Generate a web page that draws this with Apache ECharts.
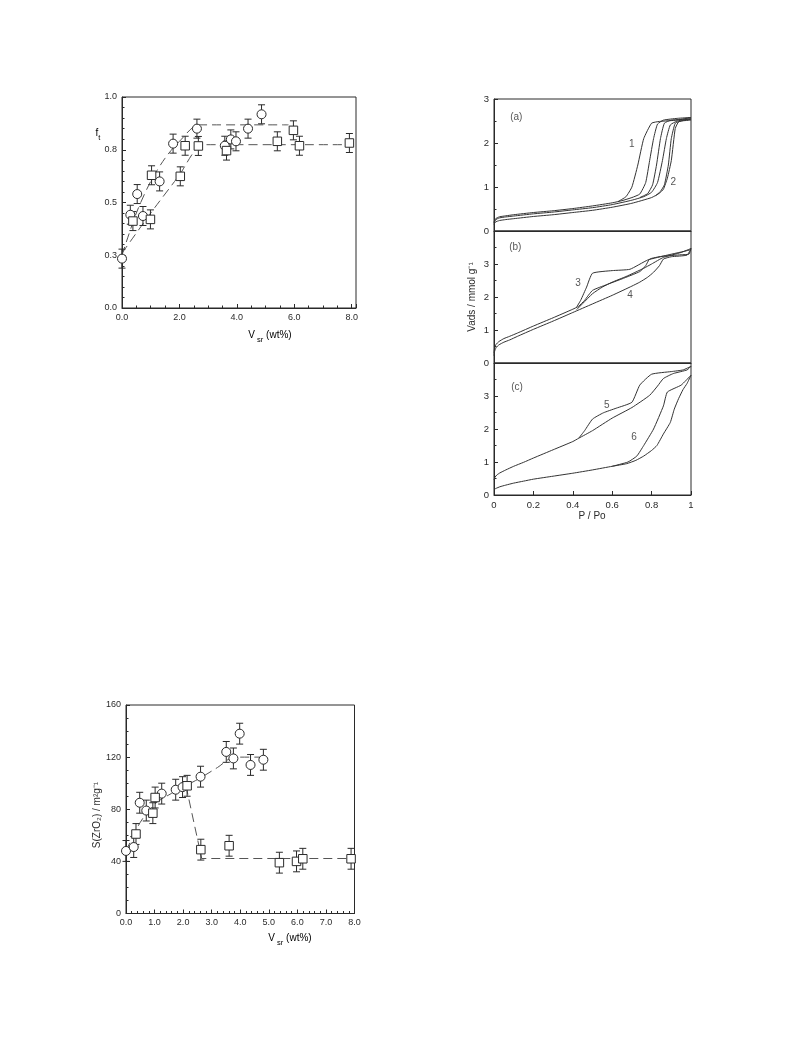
<!DOCTYPE html>
<html><head><meta charset="utf-8">
<script src="https://cdn.jsdelivr.net/npm/echarts/dist/echarts.min.js"></script>
<style>html,body{margin:0;padding:0;background:#fff}#c{width:793px;height:1057px}</style>
</head><body><div id="c"></div>
<script>
// ---------- Chart 1: f_t vs V_sr ----------
const ftCircX = [0.0, 0.29, 0.53, 0.73, 1.31, 1.78, 2.61, 3.58, 3.79, 3.97, 4.39, 4.86];
const ftCircY = [0.234, 0.442, 0.540, 0.436, 0.600, 0.779, 0.850, 0.769, 0.799, 0.790, 0.850, 0.918];
const ftSqX = [0.38, 0.99, 1.03, 2.03, 2.20, 2.66, 3.64, 5.41, 5.97, 6.18, 7.92];
const ftSqY = [0.412, 0.420, 0.629, 0.624, 0.769, 0.768, 0.746, 0.790, 0.842, 0.769, 0.782];
const ftErr = 0.045;
const ftFitCirc = [[0,0.25],[0.5,0.45],[1.0,0.60],[1.5,0.71],[2.0,0.79],[2.7,0.868],[5.8,0.868]];
const ftFitSq = [[0,0.26],[1.0,0.45],[2.0,0.63],[2.8,0.774],[8.0,0.774]];
const ftXTicks = [0, 2, 4, 6, 8];
const ftXLabels = ['0.0', '2.0', '4.0', '6.0', '8.0'];
const ftYTicks = [0, 0.25, 0.5, 0.75, 1.0];
const ftYLabels = ['0.0', '0.3', '0.5', '0.8', '1.0'];

// ---------- Chart 3: S(ZrO2) vs V_sr ----------
const sCircX = [0.0, 0.27, 0.48, 0.71, 1.25, 1.74, 1.98, 2.61, 3.51, 3.76, 3.98, 4.36, 4.81];
const sCircY = [48, 51, 85, 79, 92, 95, 97, 105, 124, 119, 138, 114, 118];
const sSqX = [0.35, 0.94, 1.02, 2.14, 2.62, 3.61, 5.37, 5.97, 6.19, 7.88];
const sSqY = [61, 77, 89, 98, 49, 52, 39, 40, 42, 42];
const sErr = 8;
const sFitCirc = [[0,48],[0.5,70],[1.0,84],[1.5,91],[2.0,97],[2.6,104],[3.2,112],[3.8,120],[4.9,120]];
const sFitSq = [[2.1,98],[2.65,42.2],[8.0,42.2]];
const sXTicks = [0,1,2,3,4,5,6,7,8];
const sXLabels = ['0.0','1.0','2.0','3.0','4.0','5.0','6.0','7.0','8.0'];
const sYTicks = [0,40,80,120,160];
const sYLabels = ['0','40','80','120','160'];

// ---------- Chart 2: isotherms (P/Po, Vads) ----------
// panel (a)
const aU1 = [[0,0.2],[0.005,0.26],[0.015,0.3],[0.03,0.325],[0.06,0.345],[0.1,0.37],[0.2,0.42],[0.3,0.46],[0.4,0.51],[0.5,0.57],[0.6,0.64],[0.65,0.69],[0.7,0.76]];
const a1AdsTop = [[0.74,0.84],[0.77,1.1],[0.79,1.6],[0.81,2.1],[0.83,2.43],[0.86,2.52],[0.93,2.56],[1.0,2.58]];
const a1Des = [[1.0,2.58],[0.93,2.52],[0.84,2.49],[0.8,2.45],[0.76,2.1],[0.73,1.5],[0.7,1.0],[0.67,0.78],[0.63,0.67]];
const aU2 = [[0,0.18],[0.005,0.235],[0.015,0.275],[0.03,0.3],[0.06,0.32],[0.1,0.34],[0.2,0.39],[0.3,0.43],[0.4,0.48],[0.5,0.53],[0.6,0.6],[0.7,0.7],[0.76,0.78]];
const a2AdsTop = [[0.8,0.88],[0.83,1.1],[0.855,1.6],[0.875,2.1],[0.895,2.41],[0.93,2.5],[1.0,2.55]];
const a2Des = [[1.0,2.55],[0.9,2.52],[0.865,2.45],[0.845,2.1],[0.825,1.5],[0.805,1.05],[0.78,0.85],[0.74,0.76]];
const aL = [[0,0.15],[0.005,0.195],[0.015,0.22],[0.03,0.24],[0.06,0.26],[0.1,0.28],[0.2,0.33],[0.3,0.37],[0.4,0.42],[0.5,0.47],[0.6,0.54],[0.7,0.63],[0.8,0.76],[0.84,0.86]];
const a3AdsTop = [[0.86,0.95],[0.88,1.2],[0.9,1.6],[0.92,2.33],[0.937,2.48],[0.97,2.52],[1.0,2.54]];
const a3Des = [[1.0,2.52],[0.95,2.5],[0.92,2.45],[0.9,2.1],[0.885,1.5],[0.865,1.05],[0.845,0.9],[0.82,0.8]];
// panel (b)
const bU = [[0,0.3],[0.003,0.45],[0.01,0.56],[0.025,0.65],[0.05,0.74],[0.08,0.81],[0.12,0.91],[0.2,1.12],[0.3,1.37],[0.4,1.63],[0.43,1.72]];
const b3AdsTop = [[0.46,1.9],[0.5,2.2],[0.57,2.37],[0.65,2.55],[0.74,2.77],[0.77,2.95],[0.79,3.15],[0.85,3.23],[0.95,3.28],[0.99,3.3],[1.0,3.47]];
const b3Des = [[1.0,3.47],[0.99,3.42],[0.88,3.27],[0.78,3.12],[0.69,2.84],[0.6,2.8],[0.5,2.72],[0.47,2.3],[0.44,1.9],[0.42,1.7]];
const bL = [[0,0.22],[0.003,0.35],[0.01,0.46],[0.025,0.55],[0.05,0.63],[0.08,0.7],[0.12,0.81],[0.2,1.02],[0.3,1.27],[0.4,1.53]];
const b4AdsTop = [[0.5,1.79],[0.6,2.05],[0.7,2.33],[0.74,2.45],[0.78,2.6],[0.81,2.75],[0.84,2.95],[0.86,3.15],[0.9,3.22],[0.98,3.27],[1.0,3.47]];
const b4Des = [[1.0,3.47],[0.95,3.35],[0.86,3.2],[0.8,3.0],[0.76,2.87],[0.67,2.62],[0.6,2.45],[0.55,2.3],[0.5,2.1],[0.45,1.8],[0.42,1.62]];
// panel (c)
const cU = [[0,0.46],[0.005,0.54],[0.015,0.61],[0.03,0.67],[0.06,0.76],[0.1,0.87],[0.15,0.99],[0.2,1.12],[0.3,1.37],[0.4,1.62],[0.43,1.72]];
const c5AdsTop = [[0.5,1.95],[0.6,2.33],[0.7,2.65],[0.79,3.02],[0.83,3.3],[0.86,3.53],[0.91,3.68],[0.98,3.79],[1.0,3.9]];
const c5Des = [[1.0,3.9],[0.96,3.79],[0.9,3.74],[0.8,3.66],[0.74,3.33],[0.7,2.81],[0.62,2.63],[0.555,2.49],[0.5,2.3],[0.46,1.95],[0.43,1.72]];
const cL = [[0,0.17],[0.01,0.2],[0.03,0.25],[0.06,0.3],[0.1,0.36],[0.15,0.42],[0.2,0.48],[0.3,0.57],[0.4,0.66],[0.5,0.76],[0.6,0.87],[0.674,0.95]];
const c6AdsTop = [[0.72,1.05],[0.76,1.18],[0.8,1.35],[0.827,1.5],[0.86,1.85],[0.895,2.2],[0.915,2.6],[0.937,2.92],[0.96,3.2],[0.98,3.38],[1.0,3.63]];
const c6Des = [[1.0,3.63],[0.95,3.33],[0.88,3.12],[0.86,2.7],[0.81,2.0],[0.76,1.5],[0.725,1.18],[0.68,1.0],[0.6,0.87]];

const pTicks = [0,0.2,0.4,0.6,0.8,1.0];
const pLabels = ['0','0.2','0.4','0.6','0.8','1'];
const vTicks = [0,1,2,3];
const vLabels = ['0','1','2','3'];
// annotations: [panel, text, P, V]
const isoNotes = [[0,'(a)',0.113,2.59],[0,'1',0.70,1.97],[0,'2',0.91,1.11],
                  [1,'(b)',0.108,3.51],[1,'3',0.426,2.43],[1,'4',0.69,2.06],
                  [2,'(c)',0.117,3.27],[2,'5',0.573,2.72],[2,'6',0.711,1.74]];

// ---------- build ----------
const FONT = '"Liberation Sans", Arial, sans-serif';
const INK = '#2a2a2a';
function lab(vals, labels){
  return function(v){ const i = vals.findIndex(t => Math.abs(t - v) < 1e-6); return i < 0 ? '' : labels[i]; };
}
function axis(gi, min, max, interval, minorSplit, vals, labels, showLabels, showTicks){
  return {
    type:'value', gridIndex:gi, min:min, max:max, interval:interval,
    axisLine:{show:true, onZero:false, lineStyle:{color:INK, width:1}},
    axisTick:{show:showTicks, inside:true, length:4, lineStyle:{color:INK, width:1}},
    minorTick:{show:showTicks && minorSplit>0, splitNumber:minorSplit||1, length:2.5, lineStyle:{color:INK, width:1}},
    splitLine:{show:false}, minorSplitLine:{show:false},
    axisLabel:{show:showLabels, color:INK, fontSize:9, fontFamily:FONT, margin:5,
               showMinLabel:true, showMaxLabel:true, formatter: lab(vals, labels)}
  };
}
function pairs(xs, ys, e){ return xs.map((x,i)=> e===undefined ? [x, ys[i]] : [x, ys[i], e]); }
function errRender(params, api){
  const x = api.value(0), y = api.value(1), e = api.value(2);
  const p1 = api.coord([x, y + e]), p2 = api.coord([x, y - e]);
  const w = 3.5, st = {stroke:INK, lineWidth:1};
  return {type:'group', children:[
    {type:'line', shape:{x1:p1[0], y1:p1[1], x2:p2[0], y2:p2[1]}, style:st},
    {type:'line', shape:{x1:p1[0]-w, y1:p1[1], x2:p1[0]+w, y2:p1[1]}, style:st},
    {type:'line', shape:{x1:p2[0]-w, y1:p2[1], x2:p2[0]+w, y2:p2[1]}, style:st}]};
}
function errSeries(gi, data){
  return {type:'custom', xAxisIndex:gi, yAxisIndex:gi, data:data, renderItem:errRender,
          encode:{x:0, y:1}, z:3, clip:false, silent:true};
}
function sym(gi, data, shape, size){
  return {type:'scatter', xAxisIndex:gi, yAxisIndex:gi, data:data, symbol:shape, symbolSize:size,
          itemStyle:{color:'#fff', borderColor:INK, borderWidth:1, opacity:1}, z:4, clip:false, silent:true};
}
function dash(gi, data, sm){
  return {type:'line', xAxisIndex:gi, yAxisIndex:gi, data:data, symbol:'none', smooth:sm,
          lineStyle:{color:'#555', width:1, type:[9,5]}, z:2, silent:true};
}
function curve(gi, data){
  return {type:'line', xAxisIndex:gi, yAxisIndex:gi, data:data, symbol:'none', smooth:0.15,
          lineStyle:{color:'#333', width:1}, z:2, silent:true};
}

const grids = [
  {left:122, top:97, width:234, height:211},
  {left:494, top:99, width:197, height:132},
  {left:494, top:231, width:197, height:132},
  {left:494, top:363, width:197, height:132},
  {left:126, top:705, width:228.5, height:208.5}
].map(g => Object.assign(g, {show:true, borderColor:INK, borderWidth:1, backgroundColor:'transparent', containLabel:false, outerBoundsMode:'none'}));

const xAxes = [
  axis(0, 0, 8.15, 2, 4, ftXTicks, ftXLabels, true, true),
  axis(1, 0, 1, 0.2, 0, pTicks, pLabels, false, false),
  axis(2, 0, 1, 0.2, 0, pTicks, pLabels, false, false),
  axis(3, 0, 1, 0.2, 0, pTicks, pLabels, true, true),
  axis(4, 0, 8, 1, 5, sXTicks, sXLabels, true, true)
];
const yAxes = [
  axis(0, 0, 1, 0.25, 5, ftYTicks, ftYLabels, true, true),
  axis(1, 0, 3, 1, 2, vTicks, vLabels, true, true),
  axis(2, 0, 4, 1, 2, vTicks, vLabels, true, true),
  axis(3, 0, 4, 1, 2, vTicks, vLabels, true, true),
  axis(4, 0, 160, 40, 4, sYTicks, sYLabels, true, true)
];
xAxes.forEach((a,i)=>{ if(i>=1 && i<=3) a.axisLabel.fontSize = 9.5; });
yAxes.forEach((a,i)=>{ if(i>=1 && i<=3) a.axisLabel.fontSize = 9.5; });

const series = [];
// chart 1
series.push(dash(0, ftFitCirc, 0.3), dash(0, ftFitSq, 0.2));
series.push(errSeries(0, pairs(ftCircX, ftCircY, ftErr)), errSeries(0, pairs(ftSqX, ftSqY, ftErr)));
series.push(sym(0, pairs(ftCircX, ftCircY), 'circle', 9), sym(0, pairs(ftSqX, ftSqY), 'rect', 8.5));
// chart 3
series.push(dash(4, sFitCirc, 0.3), dash(4, sFitSq, false));
series.push(errSeries(4, pairs(sCircX, sCircY, sErr)), errSeries(4, pairs(sSqX, sSqY, sErr)));
series.push(sym(4, pairs(sCircX, sCircY), 'circle', 9), sym(4, pairs(sSqX, sSqY), 'rect', 8.5));
// chart 2
series.push(curve(1, aU1.concat(a1AdsTop)), curve(1, a1Des));
series.push(curve(1, aU2.concat(a2AdsTop)), curve(1, a2Des));
series.push(curve(1, aL.concat(a3AdsTop)), curve(1, a3Des));
series.push(curve(2, bU.concat(b3AdsTop)), curve(2, b3Des));
series.push(curve(2, bL.concat(b4AdsTop)), curve(2, b4Des));
series.push(curve(3, cU.concat(c5AdsTop)), curve(3, c5Des));
series.push(curve(3, cL.concat(c6AdsTop)), curve(3, c6Des));
[0,1,2].forEach(p => {
  series.push({type:'scatter', xAxisIndex:p+1, yAxisIndex:p+1, symbolSize:1, silent:true, z:5,
    itemStyle:{color:'rgba(0,0,0,0)'},
    data: isoNotes.filter(n => n[0]===p).map(n => ({name:n[1], value:[n[2], n[3]]})),
    label:{show:true, position:'inside', formatter:'{b}', color:INK, fontSize:10, fontFamily:FONT}});
});

const rich = {
  n:{fontSize:10, fontFamily:FONT, color:INK, lineHeight:12, verticalAlign:'middle'},
  s:{fontSize:7.5, fontFamily:FONT, color:INK, lineHeight:17, verticalAlign:'bottom'}
};
const graphic = [
  {type:'text', x:98, y:133, style:{text:'{n|f}{s|t}', rich:rich, align:'center', verticalAlign:'middle'}},
  {type:'text', x:270, y:335, style:{text:'{n|V}{s| sr}{n| (wt%)}', rich:rich, align:'center', verticalAlign:'middle'}},
  {type:'text', x:290, y:938, style:{text:'{n|V}{s| sr}{n| (wt%)}', rich:rich, align:'center', verticalAlign:'middle'}},
  {type:'text', x:97, y:815, rotation:Math.PI/2, style:{text:'S(ZrO\u2082) / m\u00b2g\u207b\u00b9', fill:INK, fontSize:10, fontFamily:FONT, align:'center', verticalAlign:'middle'}},
  {type:'text', x:472, y:297, rotation:Math.PI/2, style:{text:'Vads / mmol g\u207b\u00b9', fill:INK, fontSize:10, fontFamily:FONT, align:'center', verticalAlign:'middle'}},
  {type:'text', x:592, y:516, style:{text:'P / Po', fill:INK, fontSize:10, fontFamily:FONT, align:'center', verticalAlign:'middle'}}
];

const chart = echarts.init(document.getElementById('c'), null, {renderer:'canvas'});
chart.setOption({
  animation:false, backgroundColor:'#fff',
  grid:grids, xAxis:xAxes, yAxis:yAxes, series:series, graphic:graphic,
  tooltip:{show:false}, legend:{show:false}
});
</script></body></html>
